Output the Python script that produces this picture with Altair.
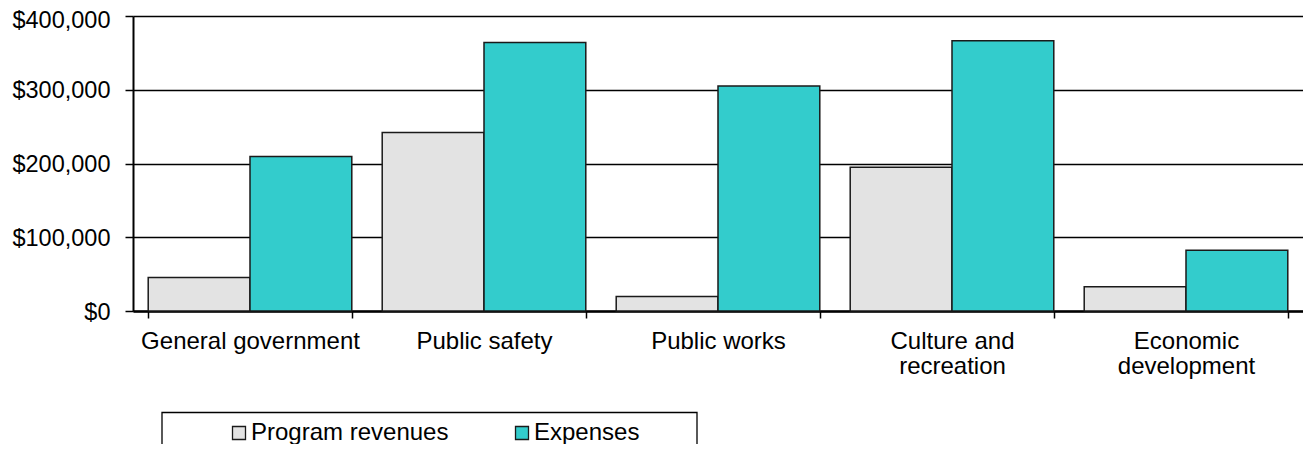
import altair as alt
import pandas as pd

categories = ["General government", "Public safety", "Public works",
              "Culture and recreation", "Economic development"]
series = ["Program revenues", "Expenses"]
program_revenues = [45500, 242000, 19500, 195000, 33000]
expenses = [209500, 364000, 305000, 366500, 82500]
colors = ["#E3E3E3", "#33CCCC"]
y_ticks = [0, 100000, 200000, 300000, 400000]
label_lines = {
    "Culture and recreation": ["Culture and", "recreation"],
    "Economic development": ["Economic", "development"],
}

rows = []
for c, r, e in zip(categories, program_revenues, expenses):
    rows.append({"category": c, "series": series[0], "value": r})
    rows.append({"category": c, "series": series[1], "value": e})
df = pd.DataFrame(rows)

expr = "datum.label"
for k, v in label_lines.items():
    arr = "[" + ",".join("'" + s + "'" for s in v) + "]"
    expr = f"datum.label == '{k}' ? {arr} : ({expr})"

FONT = "Liberation Sans"

bars = alt.Chart(df).mark_bar(stroke="#1a1a1a", strokeWidth=1.5).encode(
    x=alt.X("category:N", sort=categories, title=None,
            scale=alt.Scale(paddingInner=0.13, paddingOuter=0.065),
            axis=alt.Axis(labelAngle=0, labelExpr=expr, tickBand="extent",
                          tickSize=7, tickColor="black", tickWidth=1.5,
                          domainColor="black", domainWidth=2.5,
                          labelPadding=11, labelLineHeight=25, labelLimit=0,
                          labelFontSize=24, labelFont=FONT, labelColor="black",
                          labelBaseline="top", grid=False)),
    xOffset=alt.XOffset("series:N", sort=series),
    y=alt.Y("value:Q", title=None,
            scale=alt.Scale(domain=[0, 400000], nice=False),
            axis=alt.Axis(values=y_ticks, format="$,.0f", tickSize=8,
                          tickColor="black", tickWidth=1.5,
                          domainColor="black", domainWidth=2,
                          gridColor="black", gridWidth=1.4, grid=True,
                          labelPadding=15,
                          labelOffset={"condition": {"test": "datum.value >= 400000", "value": 4},
                                       "value": 1},
                          labelLimit=0,
                          labelFontSize=23.5, labelFont=FONT,
                          labelColor="black")),
    color=alt.Color("series:N", sort=series,
                    scale=alt.Scale(domain=series, range=colors),
                    legend=alt.Legend(title=None, orient="none", direction="horizontal",
                                      legendX=94, legendY=405, padding=0,
                                      symbolType="square", symbolSize=169,
                                      symbolStrokeColor="#1a1a1a", symbolStrokeWidth=1.3,
                                      labelFontSize=24, labelFont=FONT, labelColor="black",
                                      labelLimit=0, labelOffset=0, columnPadding=61)),
)

frame = alt.Chart(pd.DataFrame({"frame": [0]})).mark_rect(
    fill=None, stroke="black", strokeWidth=1.3
).encode(
    x=alt.value(29), x2=alt.value(564),
    y=alt.value(396.5), y2=alt.value(450),
)

chart = alt.layer(bars, frame).properties(
    width=1170, height=295,
    padding={"left": 125, "top": 8, "right": 0, "bottom": 133},
    autosize="none",
).configure_view(stroke=None).configure(background="white")

chart.save("out.html", embed_options={"renderer": "svg", "actions": False})
